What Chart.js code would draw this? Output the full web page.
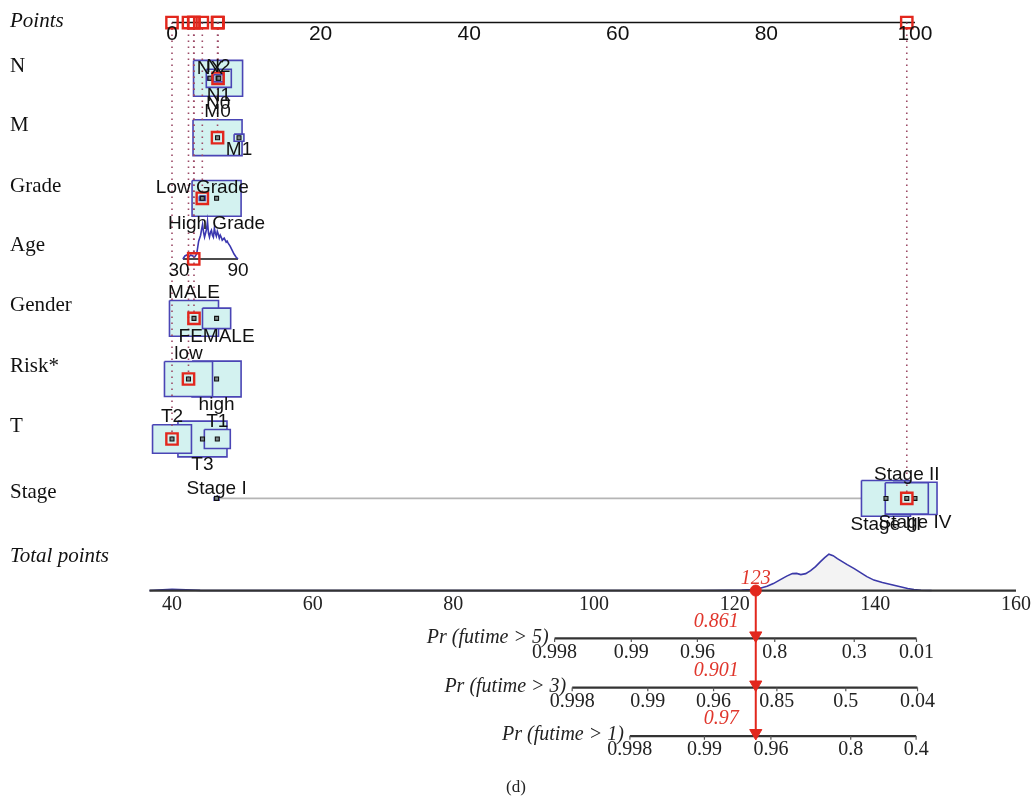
<!DOCTYPE html>
<html>
<head>
<meta charset="utf-8">
<title>Nomogram</title>
<script src="https://cdn.jsdelivr.net/npm/chart.js@4.4.1/dist/chart.umd.min.js"></script>
<style>
  html, body { margin: 0; padding: 0; background: #ffffff; }
  #wrap { width: 1032px; height: 803px; }
  canvas { display: block; }
</style>
</head>
<body>
<div id="wrap"><canvas id="nomo" width="1032" height="803" style="width:1032px;height:803px"></canvas></div>
<script>
// ---------------- data ----------------
const pointTicks = [0, 20, 40, 60, 80, 100];
const totalTicks = [40, 60, 80, 100, 120, 140, 160];

// score points per level, and relative frequency of each level (drives box size)
const nLevels = ['NX', 'N0', 'N2', 'N1'];
const nPoints = [5.11, 6.20, 6.25, 6.30];
const nFreq   = [0.01, 1.00, 0.04, 0.26];

const mLevels = ['M0', 'M1'];
const mPoints = [6.13, 9.02];
const mFreq   = [1.00, 0.04];

const gradeLevels = ['Low Grade', 'High Grade'];
const gradePoints = [4.08, 6.00];
const gradeFreq   = [0.015, 1.00];

const genderLevels = ['MALE', 'FEMALE'];
const genderPoints = [2.96, 6.00];
const genderFreq   = [1.00, 0.33];

const riskLevels = ['low', 'high'];
const riskPoints = [2.22, 6.00];
const riskFreq   = [0.96, 1.00];

const tLevels = ['T2', 'T3', 'T1'];
const tPoints = [0.00, 4.10, 6.10];
const tFreq   = [0.63, 1.00, 0.28];

const stageLevels = ['Stage I', 'Stage III', 'Stage II', 'Stage IV'];
const stagePoints = [6.00, 96.10, 98.90, 100.00];
const stageFreq   = [0.01, 1.00, 0.77, 0.81];

// age: continuous predictor
const ageTicks = [30, 90];
const ageTickPoints = [0.94, 8.88];
const ageRange = [34, 90];
const ageGrid    = [34, 36, 38, 40, 42, 44, 46, 48, 50, 52, 53, 54, 55, 56, 57, 58, 59, 60, 61, 62, 63, 64, 65, 66, 67, 68, 69, 70, 71, 72, 73, 74, 75, 76, 77, 78, 79, 80, 82, 84, 86, 88, 90];
const ageDensity = [0, 3, 4, 2, 4, 3, 2, 5, 18, 24, 30, 35, 27, 22, 26, 30, 38, 26, 22, 27, 29, 24, 22, 31, 26, 23, 28, 25, 21, 24, 22, 19, 20, 21, 19, 17, 18, 16, 13, 9, 5, 2, 0];

// distribution of total points in the cohort
const totalGrid    = [36.8, 38, 40, 42, 44, 46, 60, 80, 100, 115, 119, 121, 122.5, 123.5, 124.6, 125.5, 126.5, 127.4, 128.2, 128.8, 129.4, 130.1, 130.8, 131.5, 132.2, 132.8, 133.4, 134, 134.6, 135.3, 136, 137, 137.9, 138.8, 139.8, 141, 142.2, 143.4, 144.6, 145.5, 146.5, 148];
const totalDensity = [0, 0.5, 1.2, 0.8, 0.2, 0, 0, 0, 0, 0, 0.2, 0.5, 1, 2, 4.3, 7, 11, 14.5, 17, 17.2, 16, 17, 20, 24, 29, 33, 36.5, 35, 32, 29, 26, 22, 18, 14, 10.5, 8, 6, 4, 2, 1, 0.3, 0];

// survival probability scales (labels and the total-points value they sit at)
const pr5Labels = ['0.998', '0.99', '0.96', '0.8', '0.3', '0.01'];
const pr5At     = [94.4, 105.3, 114.7, 125.7, 137.0, 145.85];
const pr3Labels = ['0.998', '0.99', '0.96', '0.85', '0.5', '0.04'];
const pr3At     = [96.9, 107.65, 117.0, 126.0, 135.8, 146.0];
const pr1Labels = ['0.998', '0.99', '0.96', '0.8', '0.4'];
const pr1At     = [105.1, 115.7, 125.15, 136.5, 145.8];
const prTitles  = ['Pr (futime > 5)', 'Pr (futime > 3)', 'Pr (futime > 1)'];

// the scored patient
const rowNames = ['N', 'M', 'Grade', 'Age', 'Gender', 'Risk*', 'T', 'Stage'];
const rowKeys  = ['N', 'M', 'Grade', 'Age', 'Gender', 'Risk', 'T', 'Stage'];
const observed = ['N0', 'M0', 'Low Grade', 45, 'MALE', 'low', 'T2', 'Stage II'];
const totalScore = 123;
const survivalProb = [0.861, 0.901, 0.97];

// ---------------- layout ----------------
const ROW = { points: 0, N: 0.92, M: 1.9, Grade: 2.9, Age: 3.9, Gender: 4.88, Risk: 5.88, T: 6.87, Stage: 7.85, total: 9.37, pr: [10.16, 10.97, 11.77] };
const ROW_TITLE_SHIFT = [-12, -12, -12, -13, -13, -13, -13, -6];
const BOX_W = 6.6;     // widest box, score points
const BOX_H = 0.59;    // its height, row units
const LABEL_GAP = 8;   // px between a box edge and its level label
const AGE_DENS_H = 0.62;
const TOTAL_DENS_H = 0.6;

const SERIF = "'Liberation Serif', 'DejaVu Serif', serif";
const SANS = "'Liberation Sans', Arial, sans-serif";
const RED = '#e2271d';
const RED_TEXT = '#e0362c';
const BLUE = '#4a45b5';
const CYAN = '#d3f2f0';
const DOTS = '#9c4a66';

const categorical = [
  { key: 'N', levels: nLevels, points: nPoints, freq: nFreq },
  { key: 'M', levels: mLevels, points: mPoints, freq: mFreq },
  { key: 'Grade', levels: gradeLevels, points: gradePoints, freq: gradeFreq },
  { key: 'Gender', levels: genderLevels, points: genderPoints, freq: genderFreq },
  { key: 'Risk', levels: riskLevels, points: riskPoints, freq: riskFreq },
  { key: 'T', levels: tLevels, points: tPoints, freq: tFreq },
  { key: 'Stage', levels: stageLevels, points: stagePoints, freq: stageFreq }
];
const prAxes = [
  { labels: pr5Labels, at: pr5At },
  { labels: pr3Labels, at: pr3At },
  { labels: pr1Labels, at: pr1At }
];

function agePoints(age) {
  return ageTickPoints[0] + (age - ageTicks[0]) * (ageTickPoints[1] - ageTickPoints[0]) / (ageTicks[1] - ageTicks[0]);
}
function patientPoints(i) {
  if (rowKeys[i] === 'Age') return agePoints(observed[i]);
  const v = categorical.find(c => c.key === rowKeys[i]);
  return v.points[v.levels.indexOf(observed[i])];
}

// ---------------- datasets ----------------
const ds = [];
const seg = (axis, pts, style) => ds.push(Object.assign({
  type: 'line', xAxisID: axis, yAxisID: 'y', data: pts, fill: false,
  pointRadius: 0, pointHoverRadius: 0, borderWidth: 1.5, borderColor: '#000', clip: false, tension: 0
}, style));
const marks = (axis, pts, style) => ds.push(Object.assign({
  type: 'scatter', xAxisID: axis, yAxisID: 'y', data: pts, clip: false, showLine: false
}, style));

// level guide lines
categorical.forEach(v => {
  const r = ROW[v.key];
  seg('xp', [{ x: Math.min(...v.points), y: r }, { x: Math.max(...v.points), y: r }], { borderColor: '#b5b5b5', borderWidth: 1.6 });
});

// frequency boxes, biggest first
categorical.forEach(v => {
  const fmax = Math.max(...v.freq);
  const r = ROW[v.key];
  v.levels.map((_, i) => i).sort((a, b) => v.freq[b] - v.freq[a]).forEach(i => {
    const k = Math.sqrt(v.freq[i] / fmax);
    const hw = BOX_W * k / 2, hh = BOX_H * k / 2, c = v.points[i];
    seg('xp', [
      { x: c - hw, y: r - hh }, { x: c + hw, y: r - hh }, { x: c + hw, y: r + hh },
      { x: c - hw, y: r + hh }, { x: c - hw, y: r - hh }
    ], { fill: 'shape', backgroundColor: CYAN, borderColor: BLUE, borderWidth: 1.6 });
  });
});

// age axis and its density
seg('xp', [{ x: agePoints(ageRange[0]), y: ROW.Age }, { x: agePoints(ageRange[1]), y: ROW.Age }], { borderColor: '#111', borderWidth: 1.6 });
const ageMax = Math.max(...ageDensity);
seg('xp', ageGrid.map((a, i) => ({ x: agePoints(a), y: ROW.Age - ageDensity[i] / ageMax * AGE_DENS_H })), { borderColor: '#3b37b0', borderWidth: 1.6 });

// points axis
seg('xp', [{ x: 0, y: ROW.points }, { x: 100, y: ROW.points }], { borderColor: '#111', borderWidth: 1.6 });

// total points density and axis
const totMax = Math.max(...totalDensity);
seg('xt', totalGrid.map((t, i) => ({ x: t, y: ROW.total - totalDensity[i] / totMax * TOTAL_DENS_H })),
  { borderColor: '#3b39a8', borderWidth: 1.6, fill: { value: ROW.total }, backgroundColor: '#f3f3f3' });
seg('xt', [{ x: totalGrid[0], y: ROW.total }, { x: totalTicks[totalTicks.length - 1], y: ROW.total }], { borderColor: '#333', borderWidth: 2.2 });

// survival probability axes
prAxes.forEach((p, j) => {
  const r = ROW.pr[j];
  seg('xt', [{ x: p.at[0], y: r }, { x: p.at[p.at.length - 1], y: r }], { borderColor: '#333', borderWidth: 2.2 });
  const ticks = [];
  p.at.forEach(t => ticks.push({ x: t, y: r }, { x: t, y: r + 0.06 }, { x: t, y: null }));
  seg('xt', ticks, { borderColor: '#555', borderWidth: 1.2, spanGaps: false });
});

// dotted guides from each contribution up to the points axis
rowKeys.forEach((k, i) => {
  const p = patientPoints(i);
  seg('xp', [{ x: p, y: ROW.points }, { x: p, y: ROW[k] }], { borderColor: DOTS, borderWidth: 1.6, borderDash: [1.6, 4.4] });
});

// level markers
const levelDots = [];
categorical.forEach(v => v.levels.forEach((_, i) => levelDots.push({ x: v.points[i], y: ROW[v.key] })));
marks('xp', levelDots, { pointStyle: 'rect', pointRadius: 2.8, backgroundColor: '#7b8686', borderColor: '#111', borderWidth: 1.1 });

// patient's values
const redSquares = [];
rowKeys.forEach((k, i) => {
  const p = patientPoints(i);
  redSquares.push({ x: p, y: ROW.points }, { x: p, y: ROW[k] });
});
marks('xp', redSquares, { pointStyle: 'rect', pointRadius: 8, backgroundColor: 'rgba(0,0,0,0)', borderColor: RED, borderWidth: 2.4 });

// total score and arrows to each probability scale
seg('xt', [{ x: totalScore, y: ROW.total }, { x: totalScore, y: ROW.pr[2] }], { borderColor: RED, borderWidth: 2 });
marks('xt', ROW.pr.map(r => ({ x: totalScore, y: r - 0.05 })), { pointStyle: 'triangle', rotation: 180, pointRadius: 7, backgroundColor: RED, borderColor: RED, borderWidth: 1 });
marks('xt', [{ x: totalScore, y: ROW.total }], { pointStyle: 'circle', pointRadius: 5.5, backgroundColor: RED, borderColor: RED, borderWidth: 1 });

ds.forEach((d, i) => { d.order = ds.length - i; });

// ---------------- text ----------------
const textLayer = {
  id: 'textLayer',
  afterDatasetsDraw(chart) {
    const { ctx } = chart;
    const sx = chart.scales.xp, st = chart.scales.xt, sy = chart.scales.y;
    const X = v => sx.getPixelForValue(v);
    const T = v => st.getPixelForValue(v);
    const Y = v => sy.getPixelForValue(v);
    const unit = Math.abs(Y(1) - Y(0));
    const put = (s, x, y, font, color, align) => {
      ctx.font = font;
      ctx.fillStyle = color;
      ctx.textAlign = align || 'center';
      ctx.textBaseline = 'middle';
      ctx.fillText(s, x, y);
    };
    ctx.save();

    // row titles
    put('Points', 10, Y(ROW.points) - 1, `italic 21px ${SERIF}`, '#111', 'left');
    rowNames.forEach((name, i) => put(name, 10, Y(ROW[rowKeys[i]]) + ROW_TITLE_SHIFT[i], `21px ${SERIF}`, '#111', 'left'));
    put('Total points', 10, Y(ROW.total) - 34, `italic 21px ${SERIF}`, '#111', 'left');

    // points axis labels
    pointTicks.forEach(v => put(String(v), X(v), Y(ROW.points) + 11.5, `21px ${SANS}`, '#111'));

    // level labels, alternating above / below
    categorical.forEach(v => {
      const fmax = Math.max(...v.freq);
      const order = v.levels.map((_, i) => i).sort((a, b) => v.points[a] - v.points[b]);
      order.forEach((i, k) => {
        const half = BOX_H * Math.sqrt(v.freq[i] / fmax) / 2 * unit;
        const dy = (k % 2 === 0 ? -1 : 1) * (LABEL_GAP + half);
        put(v.levels[i], X(v.points[i]), Y(ROW[v.key]) + dy, `19px ${SANS}`, '#111');
      });
    });

    // age axis labels
    ageTicks.forEach((a, i) => put(String(a), X(ageTickPoints[i]), Y(ROW.Age) + 11.5, `19px ${SANS}`, '#111'));

    // total points labels
    totalTicks.forEach(v => put(String(v), T(v), Y(ROW.total) + 14, `20px ${SERIF}`, '#222'));

    // probability scales
    prAxes.forEach((p, j) => {
      const r = Y(ROW.pr[j]);
      put(prTitles[j], T(p.at[0]) - 6, r - 1, `italic 20px ${SERIF}`, '#222', 'right');
      p.labels.forEach((l, i) => put(l, T(p.at[i]), r + 14, `20px ${SERIF}`, '#222'));
      put(String(survivalProb[j]), T(totalScore) - 17, r - 17, `italic 20px ${SERIF}`, RED_TEXT, 'right');
    });
    put(String(totalScore), T(totalScore), Y(ROW.total) - 11.5, `italic 20px ${SERIF}`, RED_TEXT);

    put('(d)', chart.width / 2, chart.height - 15, `17px ${SERIF}`, '#222');
    ctx.restore();
  }
};

new Chart(document.getElementById('nomo'), {
  type: 'scatter',
  data: { datasets: ds },
  options: {
    responsive: false,
    animation: false,
    events: [],
    layout: { padding: { left: 140, right: 16, top: 6, bottom: 53 } },
    plugins: { legend: { display: false }, tooltip: { enabled: false } },
    scales: {
      xp: { type: 'linear', axis: 'x', min: -4.307, max: 113.6, display: false },
      xt: { type: 'linear', axis: 'x', min: 35.45, max: 160, display: false },
      y:  { type: 'linear', axis: 'y', min: -0.2, max: 12.0, reverse: true, display: false }
    }
  },
  plugins: [textLayer]
});
</script>
</body>
</html>
